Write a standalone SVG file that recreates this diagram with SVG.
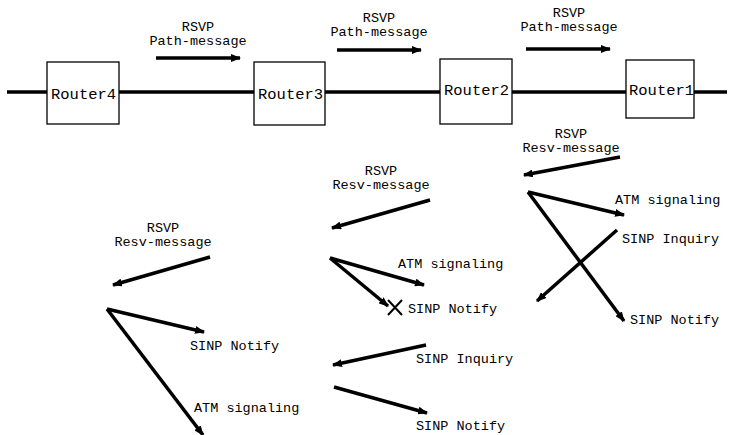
<svg xmlns="http://www.w3.org/2000/svg" width="732" height="435" viewBox="0 0 732 435">
<defs>
<marker id="ah" markerWidth="10" markerHeight="8" refX="9" refY="4" orient="auto" markerUnits="userSpaceOnUse">
<path d="M0,0 L10,4 L0,8 Z" fill="#000"/>
</marker>
<style>
.t{font-family:"Liberation Mono","DejaVu Sans Mono",monospace;font-size:13.5px;fill:#000}
.r{font-family:"Liberation Mono","DejaVu Sans Mono",monospace;font-size:15.5px;fill:#000}
.box{fill:#fff;stroke:#000;stroke-width:1.3}
.a{stroke:#000;stroke-width:3.5;fill:none;marker-end:url(#ah)}
.m{stroke:#000;stroke-width:3.5}
</style>
</defs>
<rect width="732" height="435" fill="#fff"/>
<g id="connectors">
<line class="m" x1="7" y1="92" x2="727" y2="92"/>
<line class="a" x1="156" y1="58" x2="240" y2="58"/>
<line class="a" x1="337" y1="50" x2="421" y2="50"/>
<line class="a" x1="526" y1="49" x2="610" y2="49"/>
<line class="a" x1="620" y1="157" x2="524" y2="175"/>
<line class="a" x1="430" y1="200" x2="332" y2="228"/>
<line class="a" x1="210" y1="257" x2="113" y2="285"/>
<line class="a" x1="528" y1="192" x2="624" y2="215"/>
<line class="a" x1="528" y1="192" x2="624" y2="321"/>
<line class="a" x1="617" y1="230" x2="537" y2="301"/>
<line class="a" x1="330" y1="258" x2="424" y2="285"/>
<line class="a" x1="330" y1="258" x2="388" y2="306"/>
<line class="a" x1="107" y1="309" x2="204" y2="332"/>
<line class="a" x1="107" y1="309" x2="203" y2="435"/>
<line class="a" x1="426" y1="345" x2="333" y2="365"/>
<line class="a" x1="334" y1="387" x2="427" y2="413"/>
<path d="M388,300 L402,315 M402,300 L388,315" stroke="#000" stroke-width="2" fill="none"/>
</g>
<g id="router4"><rect class="box" x="47" y="62" width="72" height="62"/><text class="r" x="51" y="99">Router4</text></g>
<g id="router3"><rect class="box" x="254" y="62" width="71" height="63"/><text class="r" x="258" y="99">Router3</text></g>
<g id="router2"><rect class="box" x="440" y="59" width="72" height="65"/><text class="r" x="444" y="95">Router2</text></g>
<g id="router1"><rect class="box" x="626" y="60" width="68" height="58"/><text class="r" x="629" y="95">Router1</text></g>
<g id="labels">
<text class="t" x="198" y="31" text-anchor="middle">RSVP</text>
<text class="t" x="198" y="45" text-anchor="middle">Path-message</text>
<text class="t" x="379" y="22" text-anchor="middle">RSVP</text>
<text class="t" x="379" y="36" text-anchor="middle">Path-message</text>
<text class="t" x="569" y="17" text-anchor="middle">RSVP</text>
<text class="t" x="569" y="31" text-anchor="middle">Path-message</text>
<text class="t" x="571" y="138" text-anchor="middle">RSVP</text>
<text class="t" x="571" y="152" text-anchor="middle">Resv-message</text>
<text class="t" x="381" y="175" text-anchor="middle">RSVP</text>
<text class="t" x="381" y="189" text-anchor="middle">Resv-message</text>
<text class="t" x="163" y="232" text-anchor="middle">RSVP</text>
<text class="t" x="163" y="246" text-anchor="middle">Resv-message</text>
<text class="t" x="615" y="204">ATM signaling</text>
<text class="t" x="622" y="243">SINP Inquiry</text>
<text class="t" x="630" y="324">SINP Notify</text>
<text class="t" x="398" y="268">ATM signaling</text>
<text class="t" x="408" y="313">SINP Notify</text>
<text class="t" x="190" y="350">SINP Notify</text>
<text class="t" x="194" y="412">ATM signaling</text>
<text class="t" x="416" y="363">SINP Inquiry</text>
<text class="t" x="416" y="430">SINP Notify</text>
</g>
</svg>
